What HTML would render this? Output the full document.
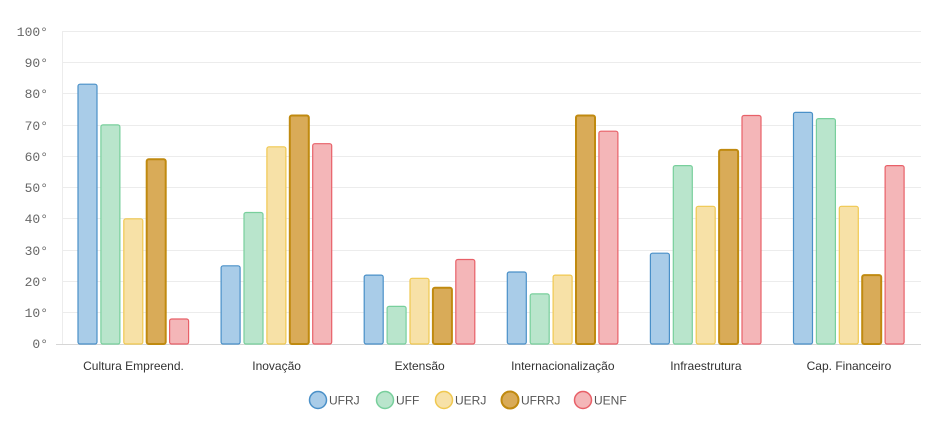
<!DOCTYPE html><html><head><style>body{margin:0;background:#fff}svg{display:block}</style></head><body>
<svg width="932" height="431" xmlns="http://www.w3.org/2000/svg">
<g stroke="#ececec" stroke-width="1">
<line x1="62" x2="921" y1="31.5" y2="31.5"/><line x1="62" x2="921" y1="62.5" y2="62.5"/><line x1="62" x2="921" y1="93.5" y2="93.5"/><line x1="62" x2="921" y1="125.5" y2="125.5"/><line x1="62" x2="921" y1="156.5" y2="156.5"/><line x1="62" x2="921" y1="187.5" y2="187.5"/><line x1="62" x2="921" y1="218.5" y2="218.5"/><line x1="62" x2="921" y1="250.5" y2="250.5"/><line x1="62" x2="921" y1="281.5" y2="281.5"/><line x1="62" x2="921" y1="312.5" y2="312.5"/>
<line x1="62.5" x2="62.5" y1="31" y2="344"/>
</g>
<line x1="56" x2="921" y1="344.5" y2="344.5" stroke="#d6d6d6"/>
<g font-family="Liberation Mono, monospace" font-size="13" fill="#666" text-anchor="end">
<text x="48" y="36">100°</text><text x="48" y="67">90°</text><text x="48" y="98">80°</text><text x="48" y="130">70°</text><text x="48" y="161">60°</text><text x="48" y="192">50°</text><text x="48" y="223">40°</text><text x="48" y="255">30°</text><text x="48" y="286">20°</text><text x="48" y="317">10°</text><text x="48" y="348">0°</text>
</g>
<g stroke-width="1.2">
<g fill="#a9cce8" stroke="#4a90c8">
<rect x="78" y="84.2" width="19" height="259.8" rx="2"/><rect x="221.1" y="265.8" width="19" height="78.2" rx="2"/><rect x="364.2" y="275.1" width="19" height="68.9" rx="2"/><rect x="507.3" y="272" width="19" height="72" rx="2"/><rect x="650.4" y="253.2" width="19" height="90.8" rx="2"/><rect x="793.5" y="112.4" width="19" height="231.6" rx="2"/>
</g>
<g fill="#b9e5cc" stroke="#78cf9c">
<rect x="100.9" y="124.9" width="19" height="219.1" rx="2"/><rect x="244" y="212.5" width="19" height="131.5" rx="2"/><rect x="387.1" y="306.4" width="19" height="37.6" rx="2"/><rect x="530.2" y="293.9" width="19" height="50.1" rx="2"/><rect x="673.3" y="165.6" width="19" height="178.4" rx="2"/><rect x="816.4" y="118.6" width="19" height="225.4" rx="2"/>
</g>
<g fill="#f7e1a7" stroke="#f0c850">
<rect x="123.8" y="218.8" width="19" height="125.2" rx="2"/><rect x="266.9" y="146.8" width="19" height="197.2" rx="2"/><rect x="410" y="278.3" width="19" height="65.7" rx="2"/><rect x="553.1" y="275.1" width="19" height="68.9" rx="2"/><rect x="696.2" y="206.3" width="19" height="137.7" rx="2"/><rect x="839.3" y="206.3" width="19" height="137.7" rx="2"/>
</g>
<g fill="#d9ab58" stroke="#c08a10" stroke-width="2">
<rect x="146.7" y="159.3" width="19" height="184.7" rx="2"/><rect x="289.8" y="115.5" width="19" height="228.5" rx="2"/><rect x="432.9" y="287.7" width="19" height="56.3" rx="2"/><rect x="576" y="115.5" width="19" height="228.5" rx="2"/><rect x="719.1" y="149.9" width="19" height="194.1" rx="2"/><rect x="862.2" y="275.1" width="19" height="68.9" rx="2"/>
</g>
<g fill="#f4b6b8" stroke="#e86068">
<rect x="169.6" y="319" width="19" height="25" rx="2"/><rect x="312.7" y="143.7" width="19" height="200.3" rx="2"/><rect x="455.8" y="259.5" width="19" height="84.5" rx="2"/><rect x="598.9" y="131.2" width="19" height="212.8" rx="2"/><rect x="742" y="115.5" width="19" height="228.5" rx="2"/><rect x="885.1" y="165.6" width="19" height="178.4" rx="2"/>
</g>
</g>
<g font-family="Liberation Sans, sans-serif" font-size="12" fill="#333" text-anchor="middle">
<text x="133.5" y="370">Cultura Empreend.</text><text x="276.6" y="370">Inovação</text><text x="419.7" y="370">Extensão</text><text x="562.8" y="370">Internacionalização</text><text x="705.9" y="370">Infraestrutura</text><text x="849" y="370">Cap. Financeiro</text>
</g>
<g stroke-width="1.5">
<circle cx="318" cy="400" r="8.5" fill="#a9cce8" stroke="#4a90c8"/>
<circle cx="385" cy="400" r="8.5" fill="#b9e5cc" stroke="#78cf9c"/>
<circle cx="444" cy="400" r="8.5" fill="#f7e1a7" stroke="#f0c850"/>
<circle cx="510" cy="400" r="8.5" fill="#d9ab58" stroke="#c08a10" stroke-width="2"/>
<circle cx="583" cy="400" r="8.5" fill="#f4b6b8" stroke="#e86068"/>
</g>
<g font-family="Liberation Sans, sans-serif" font-size="12" fill="#555">
<text x="329" y="404.5">UFRJ</text><text x="396" y="404.5">UFF</text><text x="455" y="404.5">UERJ</text><text x="521" y="404.5">UFRRJ</text><text x="594" y="404.5">UENF</text>
</g>
</svg>
</body></html>
